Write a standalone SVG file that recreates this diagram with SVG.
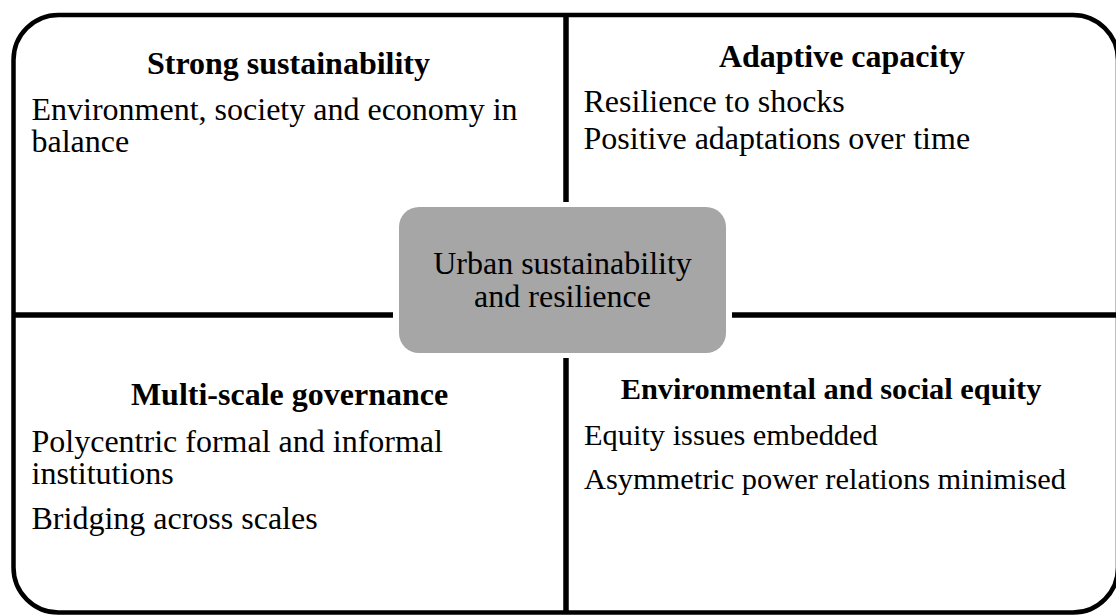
<svg xmlns="http://www.w3.org/2000/svg" width="1116" height="615" viewBox="0 0 1116 615">
<style>
  .frame { fill: none; stroke: #000; stroke-width: 4.5; }
  .div { stroke: #000; stroke-width: 5.5; fill: none; }
  .core { fill: #a6a6a6; }
  .t { font-family: "Liberation Serif", "Times New Roman", serif; font-size: 32px; fill: #000; }
  .h { font-weight: bold; text-anchor: middle; }
  .c { text-anchor: middle; }
  .s { font-size: 30.4px; }
</style>
<rect width="1116" height="615" fill="#fff"/>
<rect class="frame" x="13.5" y="15" width="1104.5" height="597.5" rx="45" ry="45"/>
<g id="connectors">
  <line class="div" x1="566" y1="15" x2="566" y2="202"/>
  <line class="div" x1="566" y1="358" x2="566" y2="613"/>
  <line class="div" x1="13" y1="315" x2="393" y2="315"/>
  <line class="div" x1="732" y1="315" x2="1116" y2="315"/>
</g>
<g id="strong-sustainability">
  <text class="t h" x="288.5" y="73.5">Strong sustainability</text>
  <text class="t" x="31.5" y="120">Environment, society and economy in</text>
  <text class="t" x="31.5" y="152">balance</text>
</g>
<g id="adaptive-capacity">
  <text class="t h" x="842" y="67">Adaptive capacity</text>
  <text class="t" x="583.5" y="112">Resilience to shocks</text>
  <text class="t" x="583.5" y="148.5">Positive adaptations over time</text>
</g>
<g id="multi-scale-governance">
  <text class="t h" x="289.5" y="405">Multi-scale governance</text>
  <text class="t" x="31.5" y="451.5">Polycentric formal and informal</text>
  <text class="t" x="31.5" y="483.5">institutions</text>
  <text class="t" x="31.5" y="528.5">Bridging across scales</text>
</g>
<g id="equity">
  <text class="t s h" x="831" y="398.5">Environmental and social equity</text>
  <text class="t s" x="584" y="445">Equity issues embedded</text>
  <text class="t s" x="584" y="488.5">Asymmetric power relations minimised</text>
</g>
<g id="core">
  <rect class="core" x="399" y="207" width="327" height="146" rx="20" ry="20"/>
  <text class="t c" x="562.5" y="274">Urban sustainability</text>
  <text class="t c" x="562.5" y="307">and resilience</text>
</g>
</svg>
